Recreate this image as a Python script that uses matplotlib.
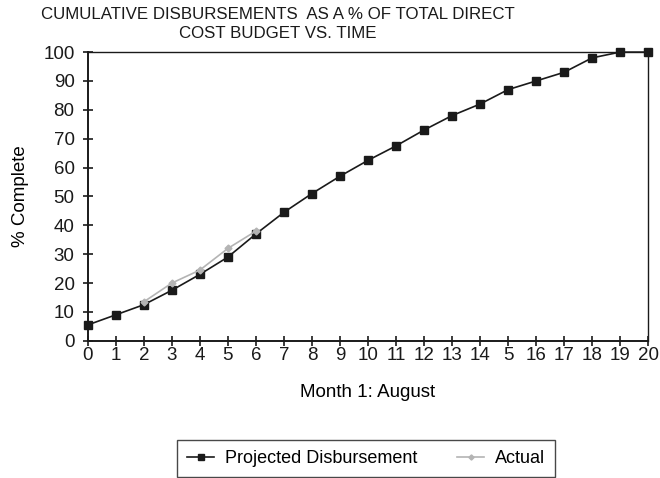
import matplotlib
matplotlib.use('Agg')
import matplotlib.pyplot as plt

plt.rcParams['font.family'] = ['Liberation Sans', 'DejaVu Sans']

# ── Data ───────────────────────────────────────────────────────────────────
months = list(range(0, 21))
projected = [5.5, 9, 12.5, 17.5, 23, 29, 37, 44.5, 51, 57, 62.5,
             67.5, 73, 78, 82, 87, 90, 93, 98, 100, 100]
actual_months = [2, 3, 4, 5, 6]
actual = [13.5, 20, 24.5, 32, 38]
x_ticklabels = ['0', '1', '2', '3', '4', '5', '6', '7', '8', '9', '10', '11',
                '12', '13', '14', '5', '16', '17', '18', '19', '20']
y_ticks = list(range(0, 101, 10))

fig = plt.figure(figsize=(6.6, 4.78), dpi=100)
ax = fig.add_axes([0.133, 0.287, 0.849, 0.604])

ax.plot(months, projected, color='#1a1a1a', linewidth=1.2, marker='s',
        markersize=5.5, label='Projected Disbursement', clip_on=False, zorder=3)
ax.plot(actual_months, actual, color='#b4b4b4', linewidth=1.2, marker='D',
        markersize=3.5, label='Actual', clip_on=False, zorder=4)

ax.set_xlim(0, 20)
ax.set_ylim(0, 100)
ax.set_xticks(months)
ax.set_xticklabels(x_ticklabels)
ax.set_yticks(y_ticks)
ax.tick_params(direction='inout', length=7, width=1.2, labelsize=13.5,
               colors='#1a1a1a')
ax.tick_params(axis='x', pad=1)
ax.tick_params(axis='y', pad=6)
for s in ax.spines.values():
    s.set_color('#1a1a1a')
ax.spines['left'].set_linewidth(1.4)
ax.spines['bottom'].set_linewidth(1.4)
ax.spines['top'].set_linewidth(1.0)
ax.spines['right'].set_linewidth(1.0)

ax.set_ylabel('% Complete', fontsize=13.5, labelpad=10)
ax.set_xlabel('Month 1: August', fontsize=13.5, labelpad=14)

fig.text(0.421, 0.985, 'CUMULATIVE DISBURSEMENTS  AS A % OF TOTAL DIRECT\nCOST BUDGET VS. TIME',
         ha='center', va='top', fontsize=12.2, linespacing=1.3, color='#1a1a1a')

leg = fig.legend(loc='center', bbox_to_anchor=(0.555, 0.041), ncol=2,
                 fontsize=13, frameon=True, fancybox=False, columnspacing=2.2,
                 handlelength=1.5, handletextpad=0.6, borderpad=0.55,
                 borderaxespad=0.3, markerscale=0.75)
leg.get_frame().set_edgecolor('#1a1a1a')
leg.get_frame().set_linewidth(1.0)

fig.savefig('out.png', dpi=100)
